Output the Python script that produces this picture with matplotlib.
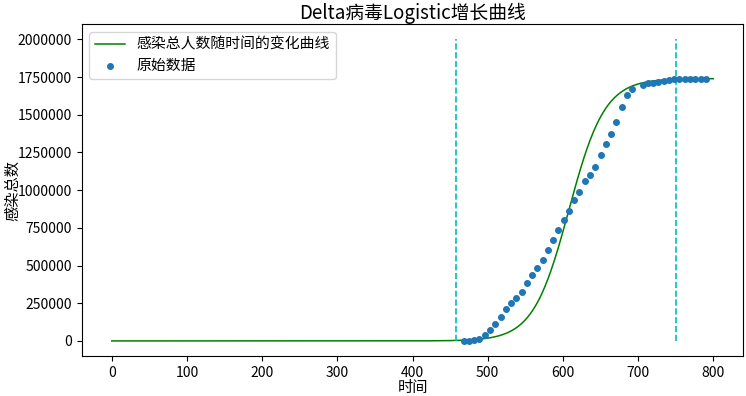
import matplotlib
matplotlib.use('Agg')
import matplotlib.pyplot as plt
import numpy as np

plt.rcParams['font.family'] = ['Noto Sans CJK SC', 'DejaVu Sans']
plt.rcParams['axes.unicode_minus'] = False

# original data (day, total infected)
days = [468, 475, 482, 489, 496, 503, 510, 517, 524, 531, 538, 545, 552, 559,
        566, 573, 580, 587, 594, 601, 608, 615, 622, 629, 636, 643, 650, 657,
        664, 671, 678, 685, 692, 706, 713, 720, 727, 734, 741, 748, 755, 762,
        769, 776, 783, 790]
cases = [0, 2000, 4000, 11000, 42000, 75000, 111000, 162000, 215000, 250000,
         286000, 323000, 381000, 434000, 485000, 534000, 605000, 669000,
         735000, 800000, 859000, 935000, 988000, 1063000, 1099000, 1156000,
         1236000, 1307000, 1373000, 1453000, 1550000, 1628000, 1674000,
         1697000, 1708000, 1712000, 1719000, 1723000, 1732000, 1734000,
         1734000, 1734000, 1734000, 1734000, 1734000, 1734000]

# fitted logistic parameters
K = 1740000
r = 0.042
t0 = 608

# fit window
t_start = 458
t_end = 750

t = np.linspace(0, 800, 801)
fit = K / (1 + np.exp(-r * (t - t0)))

fig = plt.figure(figsize=(7.46, 3.96), dpi=100)
ax = fig.add_axes([0.1095, 0.101, 0.887, 0.8376])

ax.plot(t, fit, color='g', linewidth=1.1, label='感染总人数随时间的变化曲线')
ax.scatter(days, cases, s=16, color='#1f77b4', label='原始数据', zorder=3)
ax.vlines([t_start, t_end], 0, 2000000, colors='c', linestyles='dashed',
          linewidth=1.2)

ax.set_title('Delta病毒Logistic增长曲线', fontsize=13.5, pad=3)
ax.set_xlabel('时间', fontsize=11, va='center')
ax.xaxis.set_label_coords(0.5, -0.094)
ax.set_ylabel('感染总数', fontsize=11, va='center')
ax.yaxis.set_label_coords(-0.105, 0.5)

ax.set_yticks(np.arange(0, 2000001, 250000))
ax.ticklabel_format(axis='y', style='plain', useOffset=False)
ax.tick_params(labelsize=10)
ax.legend(loc='upper left', fontsize=10.7)

fig.savefig('out.png', dpi=100)
